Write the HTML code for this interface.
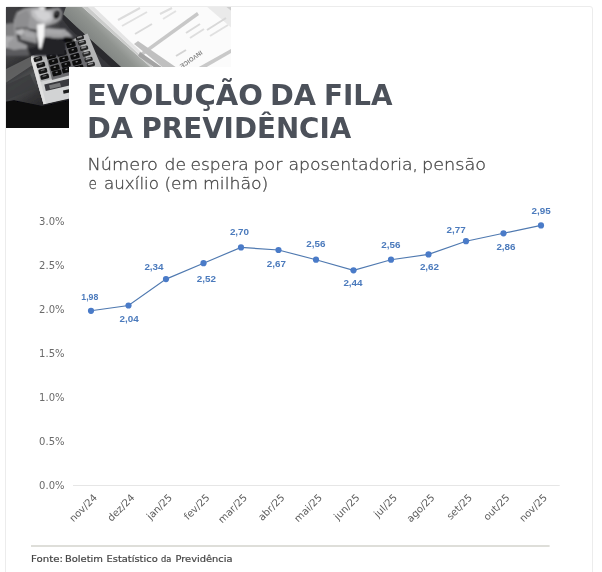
<!DOCTYPE html>
<html lang="pt-BR">
<head>
<meta charset="utf-8">
<title>Evolução da fila da Previdência</title>
<style>
html,body{margin:0;padding:0;background:#fff;}
body{width:602px;height:572px;overflow:hidden;position:relative;font-family:"Liberation Sans","DejaVu Sans",sans-serif;}
svg{position:absolute;left:0;top:0;display:block}
.card{position:absolute;left:5px;top:6px;width:586px;height:600px;border:1px solid #ececec;border-radius:3px;box-sizing:content-box}
.t1{font-family:"DejaVu Sans","Liberation Sans",sans-serif;font-weight:700;font-size:28px;fill:#4c515a;}
.t2{font-family:"DejaVu Sans Light","DejaVu Sans","Liberation Sans",sans-serif;font-weight:200;font-size:15.5px;fill:#484848;stroke:#484848;stroke-width:.28px;}
.yl text{font-family:"DejaVu Sans","Liberation Sans",sans-serif;font-size:10px;fill:#6a6a6a;text-anchor:end}
.xl text{font-family:"DejaVu Sans","Liberation Sans",sans-serif;font-size:10px;fill:#5e5e5e;text-anchor:end}
.dl text{font-family:"Liberation Sans","DejaVu Sans",sans-serif;font-weight:700;font-size:9px;fill:#4b7abc;text-anchor:middle}
.src{font-family:"DejaVu Sans","Liberation Sans",sans-serif;font-size:9.5px;fill:#444;stroke:#444;stroke-width:.2px}
</style>
</head>
<body>
<div class="card"></div>
<svg width="602" height="572" viewBox="0 0 602 572">
<defs>
<filter id="b1" x="-5%" y="-5%" width="110%" height="110%"><feGaussianBlur stdDeviation="0.75"/></filter>
<filter id="b2" x="-5%" y="-5%" width="110%" height="110%"><feGaussianBlur stdDeviation="0.9"/></filter>
<clipPath id="paper"><polygon points="80,5 234,5 234,70 154,70"/></clipPath>
<clipPath id="pc"><rect x="6" y="7" width="225" height="121"/></clipPath>
<linearGradient id="gdesk" x1="0" y1="0" x2="0.35" y2="1">
<stop offset="0" stop-color="#343436"/><stop offset=".35" stop-color="#464648"/><stop offset=".5" stop-color="#2e2e30"/><stop offset=".62" stop-color="#505254"/><stop offset=".78" stop-color="#333335"/><stop offset="1" stop-color="#1a1a1c"/>
</linearGradient>
<linearGradient id="gband" gradientUnits="userSpaceOnUse" x1="92" y1="48" x2="112" y2="28"><stop offset="0" stop-color="#7c807e"/><stop offset=".6" stop-color="#8f938f"/><stop offset="1" stop-color="#abaeab"/></linearGradient>
</defs>
<g clip-path="url(#pc)"><g filter="url(#b1)">
<rect x="4" y="5" width="230" height="126" fill="#48484a"/>
<rect x="4" y="5" width="70" height="126" fill="url(#gdesk)"/>
<polygon points="4,70 32,56 34,64 4,84" fill="#6a6c6c" opacity=".8"/>
<polygon points="4,86 30,74 36,88 4,101" fill="#3a3b3d" opacity=".8"/>
<polygon points="58,5 125,5 125,70 60,70 60,30" fill="#39393c"/>
<polygon points="66.6,5 84,5 152,68 122,68 76,26.6 63.3,14.6" fill="url(#gband)"/>
<polygon points="63.3,14.6 76,26.6 122,68 112,68 70,29 62,19" fill="#2c2c2f"/>
<g clip-path="url(#paper)">
<rect x="78" y="5" width="160" height="66" fill="#fbfbfb"/>
<polygon points="78,3 86,5 154,68 146,68" fill="#cbcccb"/>
<polygon points="86,5 92,5 158,68 154,68" fill="#e4e4e4"/>
<polygon points="110,75 197,12 199,15 116,75" fill="#c8c8c8"/>
<polygon points="138,41 180,70 166,70 134,44" fill="#c0c0c0"/>
<polygon points="140,52 166,70 158,70 138,56" fill="#a4a4a4"/>
<polygon points="197,68 231,49 231,53 205,68" fill="#c9c9c9"/>
<polygon points="224,5 234,5 234,13" fill="#9a9a9a"/>
<polygon points="205,5 234,5 234,30" fill="#e2e2e2" opacity=".7"/>
<line x1="118" y1="20" x2="140" y2="8" stroke="#dcdcdc" stroke-width="2"/>
<line x1="122" y1="26" x2="147" y2="12" stroke="#e0e0e0" stroke-width="2"/>
<line x1="135" y1="34" x2="152" y2="24" stroke="#dadada" stroke-width="2"/>
<line x1="160" y1="14" x2="172" y2="8" stroke="#dedede" stroke-width="2"/>
<line x1="163" y1="19" x2="176" y2="11" stroke="#e2e2e2" stroke-width="2"/>
<line x1="186" y1="33" x2="200" y2="24" stroke="#dadada" stroke-width="2"/>
<line x1="190" y1="38" x2="204" y2="29" stroke="#dedede" stroke-width="2"/>
<line x1="207" y1="30" x2="226" y2="18" stroke="#d8d8d8" stroke-width="2"/>
<line x1="210" y1="36" x2="228" y2="25" stroke="#e0e0e0" stroke-width="2"/>
<line x1="176" y1="56" x2="186" y2="50" stroke="#d4d4d4" stroke-width="2"/>
<text transform="translate(200.6,50.3) rotate(145)" font-family="Liberation Sans, sans-serif" font-size="6.2" font-weight="700" fill="#858585" textLength="26">INVOICE</text>
</g>
<polygon points="87.6,33.6 112,92 68.8,98 43.6,104.2 37.3,82.5 31,60 31,56" fill="#b4b5b6"/>
<polygon points="37.3,82.5 70,75 72,98 43.6,104.2" fill="#d2d3d4"/>
<polygon points="31,56 34,55 46,103.6 43.6,104.2 37.3,82.5 31,60" fill="#e0e0e0"/>
<polygon points="45,50 79,40 88,63 90,70 52,80" fill="#3a3a3e" opacity=".6"/>
<polygon points="44.3,84.5 70,78.5 71.5,85 45.8,91" fill="#38383c"/>
<polygon points="49,85.3 60,82.8 61,86.6 50,89" fill="#77787a"/>
<polygon points="63,90.5 70,89 70.6,92.2 63.6,93.7" fill="#1c1c1e"/>
<rect x="-4.3" y="-2.4" width="8.6" height="4.8" rx="1.3" transform="translate(38.0,59.0) rotate(-15)" fill="#161618"/>
<rect x="-2.2" y="-0.6" width="4.5" height="1.2" rx="1.3" transform="translate(37.8,58.2) rotate(-15)" fill="#666"/>
<rect x="-4.3" y="-2.4" width="8.6" height="4.8" rx="1.3" transform="translate(40.8,65.0) rotate(-15)" fill="#161618"/>
<rect x="-2.2" y="-0.6" width="4.5" height="1.2" rx="1.3" transform="translate(40.6,64.2) rotate(-15)" fill="#666"/>
<rect x="-4.3" y="-2.4" width="8.6" height="4.8" rx="1.3" transform="translate(42.9,71.0) rotate(-15)" fill="#161618"/>
<rect x="-2.2" y="-0.6" width="4.5" height="1.2" rx="1.3" transform="translate(42.7,70.2) rotate(-15)" fill="#666"/>
<rect x="-4.3" y="-2.4" width="8.6" height="4.8" rx="1.3" transform="translate(44.7,76.7) rotate(-15)" fill="#161618"/>
<rect x="-2.2" y="-0.6" width="4.5" height="1.2" rx="1.3" transform="translate(44.5,75.9) rotate(-15)" fill="#666"/>
<rect x="-4.6" y="-2.6" width="9.2" height="5.2" rx="1.3" transform="translate(49.9,50.4) rotate(-15)" fill="#0e0e10"/>
<rect x="-1.3" y="-0.7" width="2.6" height="1.4" rx="1.3" transform="translate(49.7,49.8) rotate(-15)" fill="#7a7a7a"/>
<rect x="-4.6" y="-2.6" width="9.2" height="5.2" rx="1.3" transform="translate(51.3,56.0) rotate(-15)" fill="#0e0e10"/>
<rect x="-1.3" y="-0.7" width="2.6" height="1.4" rx="1.3" transform="translate(51.1,55.4) rotate(-15)" fill="#7a7a7a"/>
<rect x="-4.6" y="-2.6" width="9.2" height="5.2" rx="1.3" transform="translate(53.4,61.6) rotate(-15)" fill="#0e0e10"/>
<rect x="-1.3" y="-0.7" width="2.6" height="1.4" rx="1.3" transform="translate(53.2,61.0) rotate(-15)" fill="#7a7a7a"/>
<rect x="-4.6" y="-2.6" width="9.2" height="5.2" rx="1.3" transform="translate(55.0,67.9) rotate(-15)" fill="#0e0e10"/>
<rect x="-1.3" y="-0.7" width="2.6" height="1.4" rx="1.3" transform="translate(54.8,67.3) rotate(-15)" fill="#7a7a7a"/>
<rect x="-4.6" y="-2.6" width="9.2" height="5.2" rx="1.3" transform="translate(56.9,73.0) rotate(-15)" fill="#0e0e10"/>
<rect x="-1.3" y="-0.7" width="2.6" height="1.4" rx="1.3" transform="translate(56.7,72.4) rotate(-15)" fill="#7a7a7a"/>
<rect x="-4.6" y="-2.6" width="9.2" height="5.2" rx="1.3" transform="translate(59.7,47.6) rotate(-15)" fill="#0e0e10"/>
<rect x="-1.3" y="-0.7" width="2.6" height="1.4" rx="1.3" transform="translate(59.5,47.0) rotate(-15)" fill="#7a7a7a"/>
<rect x="-4.6" y="-2.6" width="9.2" height="5.2" rx="1.3" transform="translate(61.8,53.2) rotate(-15)" fill="#0e0e10"/>
<rect x="-1.3" y="-0.7" width="2.6" height="1.4" rx="1.3" transform="translate(61.6,52.6) rotate(-15)" fill="#7a7a7a"/>
<rect x="-4.6" y="-2.6" width="9.2" height="5.2" rx="1.3" transform="translate(63.9,59.0) rotate(-15)" fill="#0e0e10"/>
<rect x="-1.3" y="-0.7" width="2.6" height="1.4" rx="1.3" transform="translate(63.7,58.4) rotate(-15)" fill="#7a7a7a"/>
<rect x="-4.6" y="-2.6" width="9.2" height="5.2" rx="1.3" transform="translate(66.0,64.6) rotate(-15)" fill="#0e0e10"/>
<rect x="-1.3" y="-0.7" width="2.6" height="1.4" rx="1.3" transform="translate(65.8,64.0) rotate(-15)" fill="#7a7a7a"/>
<rect x="-4.6" y="-2.6" width="9.2" height="5.2" rx="1.3" transform="translate(66.7,70.0) rotate(-15)" fill="#0e0e10"/>
<rect x="-1.3" y="-0.7" width="2.6" height="1.4" rx="1.3" transform="translate(66.5,69.4) rotate(-15)" fill="#7a7a7a"/>
<rect x="-4.6" y="-2.6" width="9.2" height="5.2" rx="1.3" transform="translate(70.9,44.8) rotate(-15)" fill="#0e0e10"/>
<rect x="-1.3" y="-0.7" width="2.6" height="1.4" rx="1.3" transform="translate(70.7,44.2) rotate(-15)" fill="#7a7a7a"/>
<rect x="-4.6" y="-2.6" width="9.2" height="5.2" rx="1.3" transform="translate(73.0,50.4) rotate(-15)" fill="#0e0e10"/>
<rect x="-1.3" y="-0.7" width="2.6" height="1.4" rx="1.3" transform="translate(72.8,49.8) rotate(-15)" fill="#7a7a7a"/>
<rect x="-4.6" y="-2.6" width="9.2" height="5.2" rx="1.3" transform="translate(75.0,56.4) rotate(-15)" fill="#0e0e10"/>
<rect x="-1.3" y="-0.7" width="2.6" height="1.4" rx="1.3" transform="translate(74.8,55.8) rotate(-15)" fill="#7a7a7a"/>
<rect x="-4.6" y="-2.6" width="9.2" height="5.2" rx="1.3" transform="translate(76.9,62.3) rotate(-15)" fill="#0e0e10"/>
<rect x="-1.3" y="-0.7" width="2.6" height="1.4" rx="1.3" transform="translate(76.7,61.7) rotate(-15)" fill="#7a7a7a"/>
<rect x="-4.6" y="-2.6" width="9.2" height="5.2" rx="1.3" transform="translate(79.0,68.0) rotate(-15)" fill="#0e0e10"/>
<rect x="-1.3" y="-0.7" width="2.6" height="1.4" rx="1.3" transform="translate(78.8,67.4) rotate(-15)" fill="#7a7a7a"/>
<rect x="-4.1" y="-2.1" width="8.2" height="4.2" rx="1.3" transform="translate(79.9,37.8) rotate(-15)" fill="#262628"/>
<rect x="-2.8" y="-0.8" width="5.5" height="1.6" rx="1.3" transform="translate(79.6,37.0) rotate(-15)" fill="#8a8a8c"/>
<rect x="-4.1" y="-2.1" width="8.2" height="4.2" rx="1.3" transform="translate(82.0,42.7) rotate(-15)" fill="#262628"/>
<rect x="-2.8" y="-0.8" width="5.5" height="1.6" rx="1.3" transform="translate(81.7,41.9) rotate(-15)" fill="#8a8a8c"/>
<rect x="-4.1" y="-2.1" width="8.2" height="4.2" rx="1.3" transform="translate(84.1,48.3) rotate(-15)" fill="#262628"/>
<rect x="-2.8" y="-0.8" width="5.5" height="1.6" rx="1.3" transform="translate(83.8,47.5) rotate(-15)" fill="#8a8a8c"/>
<rect x="-4.1" y="-2.1" width="8.2" height="4.2" rx="1.3" transform="translate(86.5,53.9) rotate(-15)" fill="#262628"/>
<rect x="-2.8" y="-0.8" width="5.5" height="1.6" rx="1.3" transform="translate(86.2,53.1) rotate(-15)" fill="#8a8a8c"/>
<rect x="-4.1" y="-2.1" width="8.2" height="4.2" rx="1.3" transform="translate(88.6,59.5) rotate(-15)" fill="#262628"/>
<rect x="-2.8" y="-0.8" width="5.5" height="1.6" rx="1.3" transform="translate(88.3,58.7) rotate(-15)" fill="#8a8a8c"/>
<rect x="-4.1" y="-2.1" width="8.2" height="4.2" rx="1.3" transform="translate(90.9,64.6) rotate(-15)" fill="#262628"/>
<rect x="-2.8" y="-0.8" width="5.5" height="1.6" rx="1.3" transform="translate(90.6,63.8) rotate(-15)" fill="#8a8a8c"/>
<polygon points="4,102 14,100.3 42,106 70,100 70,131 4,131" fill="#07070d"/>
</g><g filter="url(#b2)">
<polygon points="4.0,4.0 20.0,4.0 15.0,13.0 13.5,23.9 4.0,25.9" fill="#3e3e40" />
<polygon points="4.0,23.9 14.0,22.9 16.0,36.9 8.0,41.9 4.0,41.9" fill="#808082" />
<polygon points="4.0,35.9 15.0,36.4 10.0,42.9 9.0,47.9 4.0,48.9" fill="#acacae" />
<polygon points="4.0,47.9 26.9,46.9 29.9,55.8 4.0,55.8" fill="#5c5c5e" />
<polygon points="14.0,20.0 17.0,12.0 23.9,8.5 29.9,7.2 38.9,6.0 45.9,9.5 51.9,8.5 59.3,7.8 62.3,12.5 61.0,19.0 55.8,23.4 49.9,25.4 44.9,27.4 55.8,28.4 65.8,28.9 65.8,37.4 57.8,38.4 44.9,36.9 44.9,41.9 36.9,43.9 26.9,47.9 14.0,49.9 8.0,47.9 8.0,42.9 15.0,36.9 14.0,28.9" fill="#9b9b9d" />
<polygon points="30.9,10.0 38.9,8.5 51.9,11.0 53.9,17.0 50.9,21.9 43.9,23.9 36.9,20.9 31.9,16.0" fill="#bebec0" />
<polygon points="33.9,11.0 39.9,10.0 49.9,13.0 50.9,18.0 44.9,20.9 37.9,18.0" fill="#d2d2d4" />
<polygon points="15.0,16.0 26.9,10.0 29.9,16.0 27.9,26.9 15.0,27.9" fill="#8e8e90" />
<polygon points="45.4,6.0 53.9,6.0 51.9,9.0 45.9,10.0" fill="#303032" />
<polygon points="45.9,28.9 65.8,30.1 65.8,34.9 45.9,33.9" fill="#a9a9ab" />
<polygon points="18.0,30.9 28.9,28.9 36.9,32.9 36.9,42.9 26.9,43.9 19.0,37.9" fill="#959597" />
<polygon points="22.9,30.4 33.9,32.9 35.9,37.9 25.9,36.9" fill="#a6a6a8" />
<polygon points="27.9,28.4 36.9,30.1 36.9,32.4 28.9,30.1" fill="#2c2c2e" />
<polygon points="15.0,27.9 27.9,27.1 28.9,28.9 16.0,30.1" fill="#5e5e60" />
<polygon points="44.4,27.1 55.8,22.9 61.3,19.0 62.3,20.5 56.3,24.4 44.9,28.5" fill="#4a4a4c" />
<polygon points="17.0,30.4 22.9,28.9 23.9,32.4 19.0,36.9 16.5,34.9" fill="#bdbdbf" />
<polygon points="16.5,33.9 20.0,34.9 20.9,38.4 17.0,38.4" fill="#38383a" />
<polygon points="17.0,38.4 36.9,43.4 36.9,46.9 26.9,47.9 19.0,43.9" fill="#3a3a3c" />
<polygon points="8.0,42.4 19.0,41.4 27.4,45.4 26.4,48.9 10.0,48.4" fill="#9a9a9c" />
<polygon points="36.9,37.4 45.9,37.1 57.8,38.7 65.8,37.9 65.8,55.8 29.9,55.8 27.9,48.4 36.9,46.4" fill="#232326" />
<ellipse cx="56.8" cy="14.7" rx="3.2" ry="4.4" transform="rotate(20 56.8 14.7)" fill="#161619"/>
<ellipse cx="56.7" cy="13.6" rx="1.2" ry="1.7" transform="rotate(20 56.7 13.6)" fill="#4a4a4c"/>
<polygon points="64,36.8 69,36.3 73.5,39.5 73,43 66,43.5 63,40" fill="#0e0e10"/>
<polygon points="62,29 68,31.5 73,37 64,36.5 62,35" fill="#a2a2a4"/>
<polygon points="39.1,6.0 45.1,6.0 44.7,10.2 39.7,9.8" fill="#e2e2e2" />
<polygon points="37.1,24.4 44.7,23.7 44.1,36.9 41.1,49.1 39.1,47.9 37.7,36.9" fill="#f6f6f6" />
</g></g>
<rect x="69" y="67" width="170" height="64" fill="#fff"/>
<rect x="73" y="485" width="486.7" height="1" fill="#e6e6e6"/>
<polyline points="91.0,310.8 128.5,305.5 166.0,279.1 203.5,263.2 241.0,247.4 278.5,250.0 316.0,259.7 353.5,270.3 391.0,259.7 428.5,254.4 466.0,241.2 503.5,233.3 541.0,225.4" fill="none" stroke="#4f79b0" stroke-width="1.15"/>
<circle cx="91.0" cy="310.8" r="3.1" fill="#4a7bc8"/>
<circle cx="128.5" cy="305.5" r="3.1" fill="#4a7bc8"/>
<circle cx="166.0" cy="279.1" r="3.1" fill="#4a7bc8"/>
<circle cx="203.5" cy="263.2" r="3.1" fill="#4a7bc8"/>
<circle cx="241.0" cy="247.4" r="3.1" fill="#4a7bc8"/>
<circle cx="278.5" cy="250.0" r="3.1" fill="#4a7bc8"/>
<circle cx="316.0" cy="259.7" r="3.1" fill="#4a7bc8"/>
<circle cx="353.5" cy="270.3" r="3.1" fill="#4a7bc8"/>
<circle cx="391.0" cy="259.7" r="3.1" fill="#4a7bc8"/>
<circle cx="428.5" cy="254.4" r="3.1" fill="#4a7bc8"/>
<circle cx="466.0" cy="241.2" r="3.1" fill="#4a7bc8"/>
<circle cx="503.5" cy="233.3" r="3.1" fill="#4a7bc8"/>
<circle cx="541.0" cy="225.4" r="3.1" fill="#4a7bc8"/>
<g class="dl">
<text x="89.8" y="300.3" textLength="17" lengthAdjust="spacingAndGlyphs">1,98</text>
<text x="129.2" y="322.2" textLength="19.2" lengthAdjust="spacingAndGlyphs">2,04</text>
<text x="154.0" y="269.6" textLength="19.2" lengthAdjust="spacingAndGlyphs">2,34</text>
<text x="206.4" y="281.6" textLength="19.2" lengthAdjust="spacingAndGlyphs">2,52</text>
<text x="239.5" y="235.1" textLength="19.2" lengthAdjust="spacingAndGlyphs">2,70</text>
<text x="276.4" y="266.7" textLength="19.2" lengthAdjust="spacingAndGlyphs">2,67</text>
<text x="315.9" y="247.3" textLength="19.2" lengthAdjust="spacingAndGlyphs">2,56</text>
<text x="353.0" y="286.4" textLength="19.2" lengthAdjust="spacingAndGlyphs">2,44</text>
<text x="390.9" y="248.0" textLength="19.2" lengthAdjust="spacingAndGlyphs">2,56</text>
<text x="429.5" y="270.1" textLength="19.2" lengthAdjust="spacingAndGlyphs">2,62</text>
<text x="456.1" y="233.0" textLength="19.2" lengthAdjust="spacingAndGlyphs">2,77</text>
<text x="506.0" y="250.2" textLength="19.2" lengthAdjust="spacingAndGlyphs">2,86</text>
<text x="541.1" y="214.3" textLength="19.2" lengthAdjust="spacingAndGlyphs">2,95</text>
</g>
<g class="yl">
<text x="64.5" y="488.6">0.0%</text>
<text x="64.5" y="444.6">0.5%</text>
<text x="64.5" y="400.6">1.0%</text>
<text x="64.5" y="356.6">1.5%</text>
<text x="64.5" y="312.6">2.0%</text>
<text x="64.5" y="268.6">2.5%</text>
<text x="64.5" y="224.6">3.0%</text>
</g>
<g class="xl">
<text transform="translate(92.9,493.2) rotate(-45)" x="0" y="7">nov/24</text>
<text transform="translate(130.4,493.2) rotate(-45)" x="0" y="7">dez/24</text>
<text transform="translate(167.9,493.2) rotate(-45)" x="0" y="7">jan/25</text>
<text transform="translate(205.4,493.2) rotate(-45)" x="0" y="7">fev/25</text>
<text transform="translate(242.9,493.2) rotate(-45)" x="0" y="7">mar/25</text>
<text transform="translate(280.4,493.2) rotate(-45)" x="0" y="7">abr/25</text>
<text transform="translate(317.9,493.2) rotate(-45)" x="0" y="7">mai/25</text>
<text transform="translate(355.4,493.2) rotate(-45)" x="0" y="7">jun/25</text>
<text transform="translate(392.9,493.2) rotate(-45)" x="0" y="7">jul/25</text>
<text transform="translate(430.4,493.2) rotate(-45)" x="0" y="7">ago/25</text>
<text transform="translate(467.9,493.2) rotate(-45)" x="0" y="7">set/25</text>
<text transform="translate(505.4,493.2) rotate(-45)" x="0" y="7">out/25</text>
<text transform="translate(542.9,493.2) rotate(-45)" x="0" y="7">nov/25</text>
</g>
<rect x="31" y="545" width="518.6" height="2" fill="#deded9"/>
<text class="t1" x="87.00" y="104.7" textLength="175.85" lengthAdjust="spacingAndGlyphs" >EVOLUÇÃO</text>
<text class="t1" x="270.00" y="104.7" textLength="46.03" lengthAdjust="spacingAndGlyphs" >DA</text>
<text class="t1" x="324.00" y="104.7" textLength="68.56" lengthAdjust="spacingAndGlyphs" >FILA</text>
<text class="t1" x="87.00" y="137.7" textLength="46.03" lengthAdjust="spacingAndGlyphs" >DA</text>
<text class="t1" x="141.50" y="137.7" textLength="209.74" lengthAdjust="spacingAndGlyphs" >PREVIDÊNCIA</text>
<text class="t2" x="87.50" y="170" textLength="70.46" lengthAdjust="spacingAndGlyphs" >Número</text>
<text class="t2" x="164.50" y="170" textLength="21.56" lengthAdjust="spacingAndGlyphs" >de</text>
<text class="t2" x="190.50" y="170" textLength="58.07" lengthAdjust="spacingAndGlyphs" >espera</text>
<text class="t2" x="253.50" y="170" textLength="28.94" lengthAdjust="spacingAndGlyphs" >por</text>
<text class="t2" x="288.50" y="170" textLength="129.54" lengthAdjust="spacingAndGlyphs" >aposentadoria,</text>
<text class="t2" x="422.00" y="170" textLength="64.09" lengthAdjust="spacingAndGlyphs" >pensão</text>
<text class="t2" x="88.50" y="189" textLength="8.44" lengthAdjust="spacingAndGlyphs" >e</text>
<text class="t2" x="104.00" y="189" textLength="54.99" lengthAdjust="spacingAndGlyphs" >auxílio</text>
<text class="t2" x="164.50" y="189" textLength="33.48" lengthAdjust="spacingAndGlyphs" >(em</text>
<text class="t2" x="203.00" y="189" textLength="65.39" lengthAdjust="spacingAndGlyphs" >milhão)</text>
<text class="src" x="31.00" y="561.6" textLength="31.87" lengthAdjust="spacingAndGlyphs" >Fonte:</text>
<text class="src" x="65.00" y="561.6" textLength="38.01" lengthAdjust="spacingAndGlyphs" >Boletim</text>
<text class="src" x="106.50" y="561.6" textLength="51.24" lengthAdjust="spacingAndGlyphs" >Estatístico</text>
<text class="src" x="161.00" y="561.6" textLength="10.39" lengthAdjust="spacingAndGlyphs" >da</text>
<text class="src" x="175.50" y="561.6" textLength="57.00" lengthAdjust="spacingAndGlyphs" >Previdência</text>
</svg>
</body>
</html>
